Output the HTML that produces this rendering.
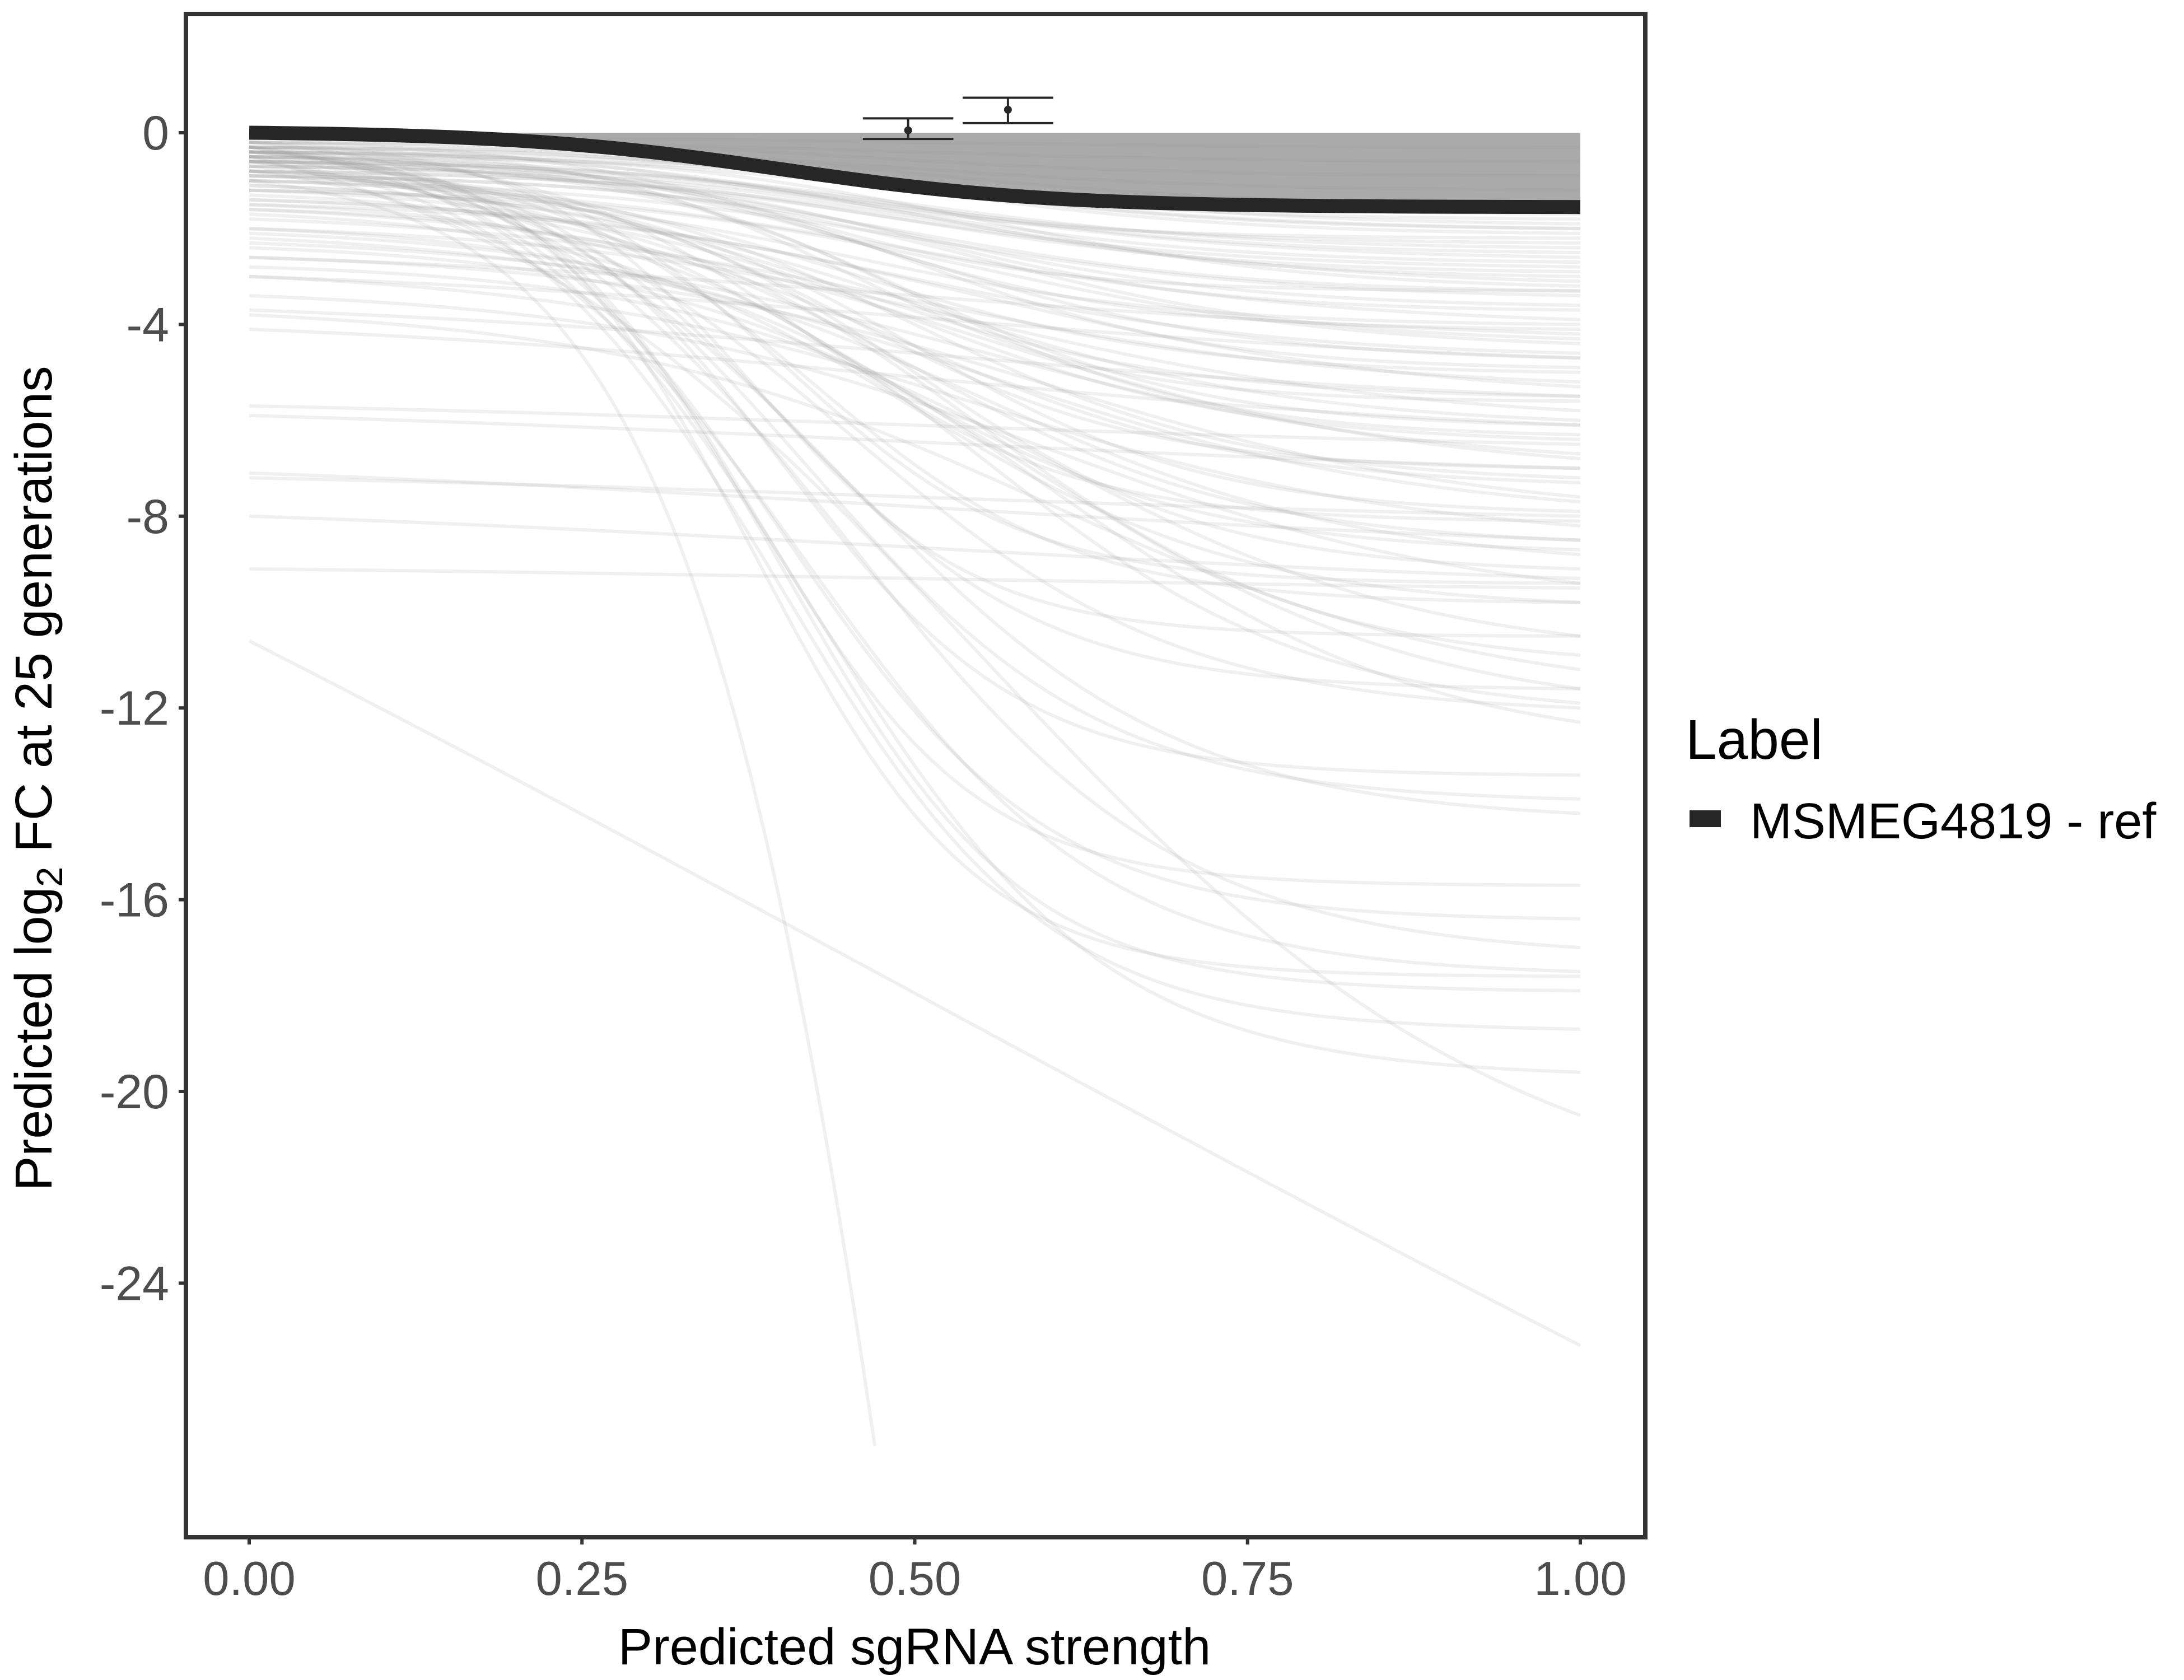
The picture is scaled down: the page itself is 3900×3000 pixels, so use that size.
<!DOCTYPE html>
<html><head><meta charset="utf-8"><style>
html,body{margin:0;padding:0;background:#fff}
svg{display:block;font-family:"Liberation Sans",sans-serif}
</style></head><body>
<svg id="chart" width="3900" height="3000" viewBox="0 0 3900 3000" xmlns="http://www.w3.org/2000/svg">
<defs><clipPath id="pclip"><rect x="336" y="29" width="2598" height="2712"/></clipPath></defs>
<rect x="332" y="25" width="2606" height="2720" fill="#fff"/>
<g id="marks" clip-path="url(#pclip)"></g>
<g id="axes"></g>
<rect x="332" y="25" width="2606" height="2720" fill="none" stroke="#333" stroke-width="8"/>
<text x="1633" y="2972" font-size="92" text-anchor="middle" fill="#000">Predicted sgRNA strength</text>
<text transform="translate(92,1390) rotate(-90)" font-size="93" text-anchor="middle" fill="#000">Predicted  log<tspan font-size="65" dy="19">2</tspan><tspan dy="-19"> FC at 25 generations</tspan></text>
<text x="3010" y="1355" font-size="100" fill="#000">Label</text>
<rect x="3017" y="1447" width="56" height="30" fill="#262626"/>
<text x="3125" y="1497" font-size="90" fill="#000">MSMEG4819 - ref</text>
</svg>
<script>
// Curves: start value (x=0), end value (x=xmax), midpoint, steepness
const starts = [-0.1,-0.2,-0.1,-0.3,-0.2,-0.4,-0.5,-0.3,-0.6,-0.7,-0.4,-0.9,
-0.3,-0.5,-0.6,-0.8,-0.4,-1.0,-0.7,-1.2,-0.9,-1.5,-0.5,-1.8,-1.1,-2.0,-0.6,-1.4,-2.3,-0.8,-1.6,-2.6,-1.0,-3.0,-1.3,-2.1,-0.9,-3.4,-1.7,-2.8,-1.2,-3.8,-2.4,-1.5,-2.0,
-5.7,-5.9,-7.2,-7.1,-8.0,-9.1,-3.7,-4.1,-3.0,-2.6,
-10.6,-1.0,
-0.5,-0.3,-0.6,-0.4,-0.2,-0.8,-0.3,-0.5,-0.4,-0.6,-0.3,-0.5,-0.7,-0.4,-0.2,-0.6,-0.3,-0.8,-0.4,
-0.2,-0.4,-0.3,-0.6,-0.5,-0.8,-0.2,-0.7,-1.0,-0.4,-1.2,-0.6,-0.9,-1.4,-0.3,-1.1,-0.5,-1.6,-0.8,-2.2];
const ends = [-0.3,-0.6,-0.9,-1.2,-1.5,-1.7,-1.9,-2.1,-2.4,-2.7,-3.0,-3.3,
-2.0,-2.3,-2.6,-2.9,-3.2,-3.4,-3.7,-4.0,-4.3,-4.6,-4.9,-5.2,-5.5,-5.8,-6.1,-6.4,-6.7,-7.0,-7.3,-7.6,-7.9,-8.2,-8.5,-8.8,-9.1,-9.4,-9.8,-10.5,-10.9,-11.2,-11.6,-11.9,-12.3,
-6.5,-7.0,-8.0,-8.5,-9.3,-9.5,-5.5,-6.1,-4.7,-4.2,
-25.3,-27.4,
-20.5,-19.6,-18.7,-17.9,-17.6,-17.5,-17.0,-16.4,-15.7,-14.2,-13.9,-13.4,-12.0,-11.6,-10.5,-9.8,-9.4,-8.7,-8.1,
-1.8,-2.0,-2.2,-2.5,-2.8,-3.1,-3.3,-3.6,-3.9,-4.1,-4.4,-4.7,-5.0,-5.3,-5.6,-6.0,-6.3,-6.8,-7.2,-7.7];
const mids = [.5,.5,.45,.5,.5,.5,.55,.5,.5,.5,.5,.5,
.5,.45,.5,.5,.55,.5,.5,.45,.55,.5,.5,.5,.45,.55,.5,.5,.55,.45,.5,.6,.5,.55,.5,.55,.5,.6,.5,.6,.55,.6,.6,.55,.6,
.5,.5,.5,.5,.5,.5,.5,.5,.5,.5,
.5,.56,
.55,.42,.4,.4,.38,.42,.45,.4,.38,.45,.42,.4,.45,.4,.38,.42,.4,.45,.42,
.45,.5,.4,.5,.45,.55,.4,.5,.5,.45,.55,.5,.45,.55,.45,.5,.5,.55,.5,.55];
const ks = [8,8,8,8,8,8,8,8,8,8,8,8,
8,8,7,8,8,7,9,8,8,7,9,6,8,6,9,8,6,9,8,6,9,6,8,7,9,6,8,7,8,6,7,8,7,
3,3,3,3,3,3,4,4,4,4,
1,10,
5,9,10,11,12,9,8,10,12,8,9,11,8,10,12,10,11,8,10,
8,7,9,8,7,7,10,8,6,9,7,8,8,6,10,7,9,6,8,6];
const xmaxs = starts.map((s,i)=> i===56 ? 0.47 : 1);
// Reference curve and error bars
const refStart = 0, refEnd = -1.55, refMid = 0.4, refK = 10;
const errX = [0.495, 0.57];
const errY = [0.05, 0.48];
const errLo = [-0.13, 0.2];
const errHi = [0.3, 0.73];
const xTicks = [0, 0.25, 0.5, 0.75, 1];
const xTickLabels = ["0.00","0.25","0.50","0.75","1.00"];
const yTicks = [0,-4,-8,-12,-16,-20,-24];
const yTickLabels = ["0","-4","-8","-12","-16","-20","-24"];

const NS="http://www.w3.org/2000/svg";
const X = v => 445 + v*(2822-445);
const Y = v => 237 - v*85.6;
function curve(s,e,m,k,xmax){
  const L = x => 1/(1+Math.exp(-k*(x-m)));
  const l0=L(0), l1=L(xmax);
  const pts=[];
  for(let i=0;i<=80;i++){const x=xmax*i/80; const y=s+(e-s)*(L(x)-l0)/(l1-l0); pts.push([x,y]);}
  return pts;
}
const marks=document.getElementById('marks');
const axes=document.getElementById('axes');
function mk(tag,attrs,parent){const el=document.createElementNS(NS,tag);for(const a in attrs)el.setAttribute(a,attrs[a]);parent.appendChild(el);return el;}
const refPts=curve(refStart,refEnd,refMid,refK,1);
let bd='M'+X(0)+','+Y(0)+' '+refPts.map(p=>'L'+X(p[0]).toFixed(1)+','+Y(p[1]).toFixed(1)).join(' ')+' L'+X(1)+','+Y(0)+' Z';
const band=mk('path',{d:bd,fill:'#aaaaaa'},marks);


for(let i=0;i<starts.length;i++){
  const pts=curve(starts[i],ends[i],mids[i],ks[i],xmaxs[i]);
  const p=mk('path',{d:'M'+pts.map(q=>X(q[0]).toFixed(1)+','+Y(q[1]).toFixed(1)).join(' L'),fill:'none',stroke:'#999','stroke-opacity':0.15,'stroke-width':6},marks);
  
  
}
const ref=mk('path',{d:'M'+refPts.map(q=>X(q[0]).toFixed(1)+','+Y(q[1]).toFixed(1)).join(' L'),fill:'none',stroke:'#262626','stroke-width':25},marks);


for(let i=0;i<errX.length;i++){
  const g=mk('g',{},marks);
  
  
  const hw=0.034;
  mk('line',{x1:X(errX[i]),x2:X(errX[i]),y1:Y(errLo[i]),y2:Y(errHi[i]),stroke:'#262626','stroke-width':4},g);
  mk('line',{x1:X(errX[i]-hw),x2:X(errX[i]+hw),y1:Y(errLo[i]),y2:Y(errLo[i]),stroke:'#262626','stroke-width':4},g);
  mk('line',{x1:X(errX[i]-hw),x2:X(errX[i]+hw),y1:Y(errHi[i]),y2:Y(errHi[i]),stroke:'#262626','stroke-width':4},g);
  mk('circle',{cx:X(errX[i]),cy:Y(errY[i]),r:7,fill:'#262626'},g);
}
xTicks.forEach((v,i)=>{
  const t=mk('line',{x1:X(v),x2:X(v),y1:2745,y2:2758,stroke:'#333','stroke-width':6},axes);
  
  
  const l=mk('text',{x:X(v),y:2848,'font-size':85,'text-anchor':'middle',fill:'#4d4d4d'},axes);
  l.textContent=xTickLabels[i];
  
  
});
yTicks.forEach((v,i)=>{
  const t=mk('line',{x1:319,x2:332,y1:Y(v),y2:Y(v),stroke:'#333','stroke-width':6},axes);
  
  
  const l=mk('text',{x:302,y:Y(v)+30,'font-size':86,'text-anchor':'end',fill:'#4d4d4d'},axes);
  l.textContent=yTickLabels[i];
  
  
});
</script>
</body></html>
